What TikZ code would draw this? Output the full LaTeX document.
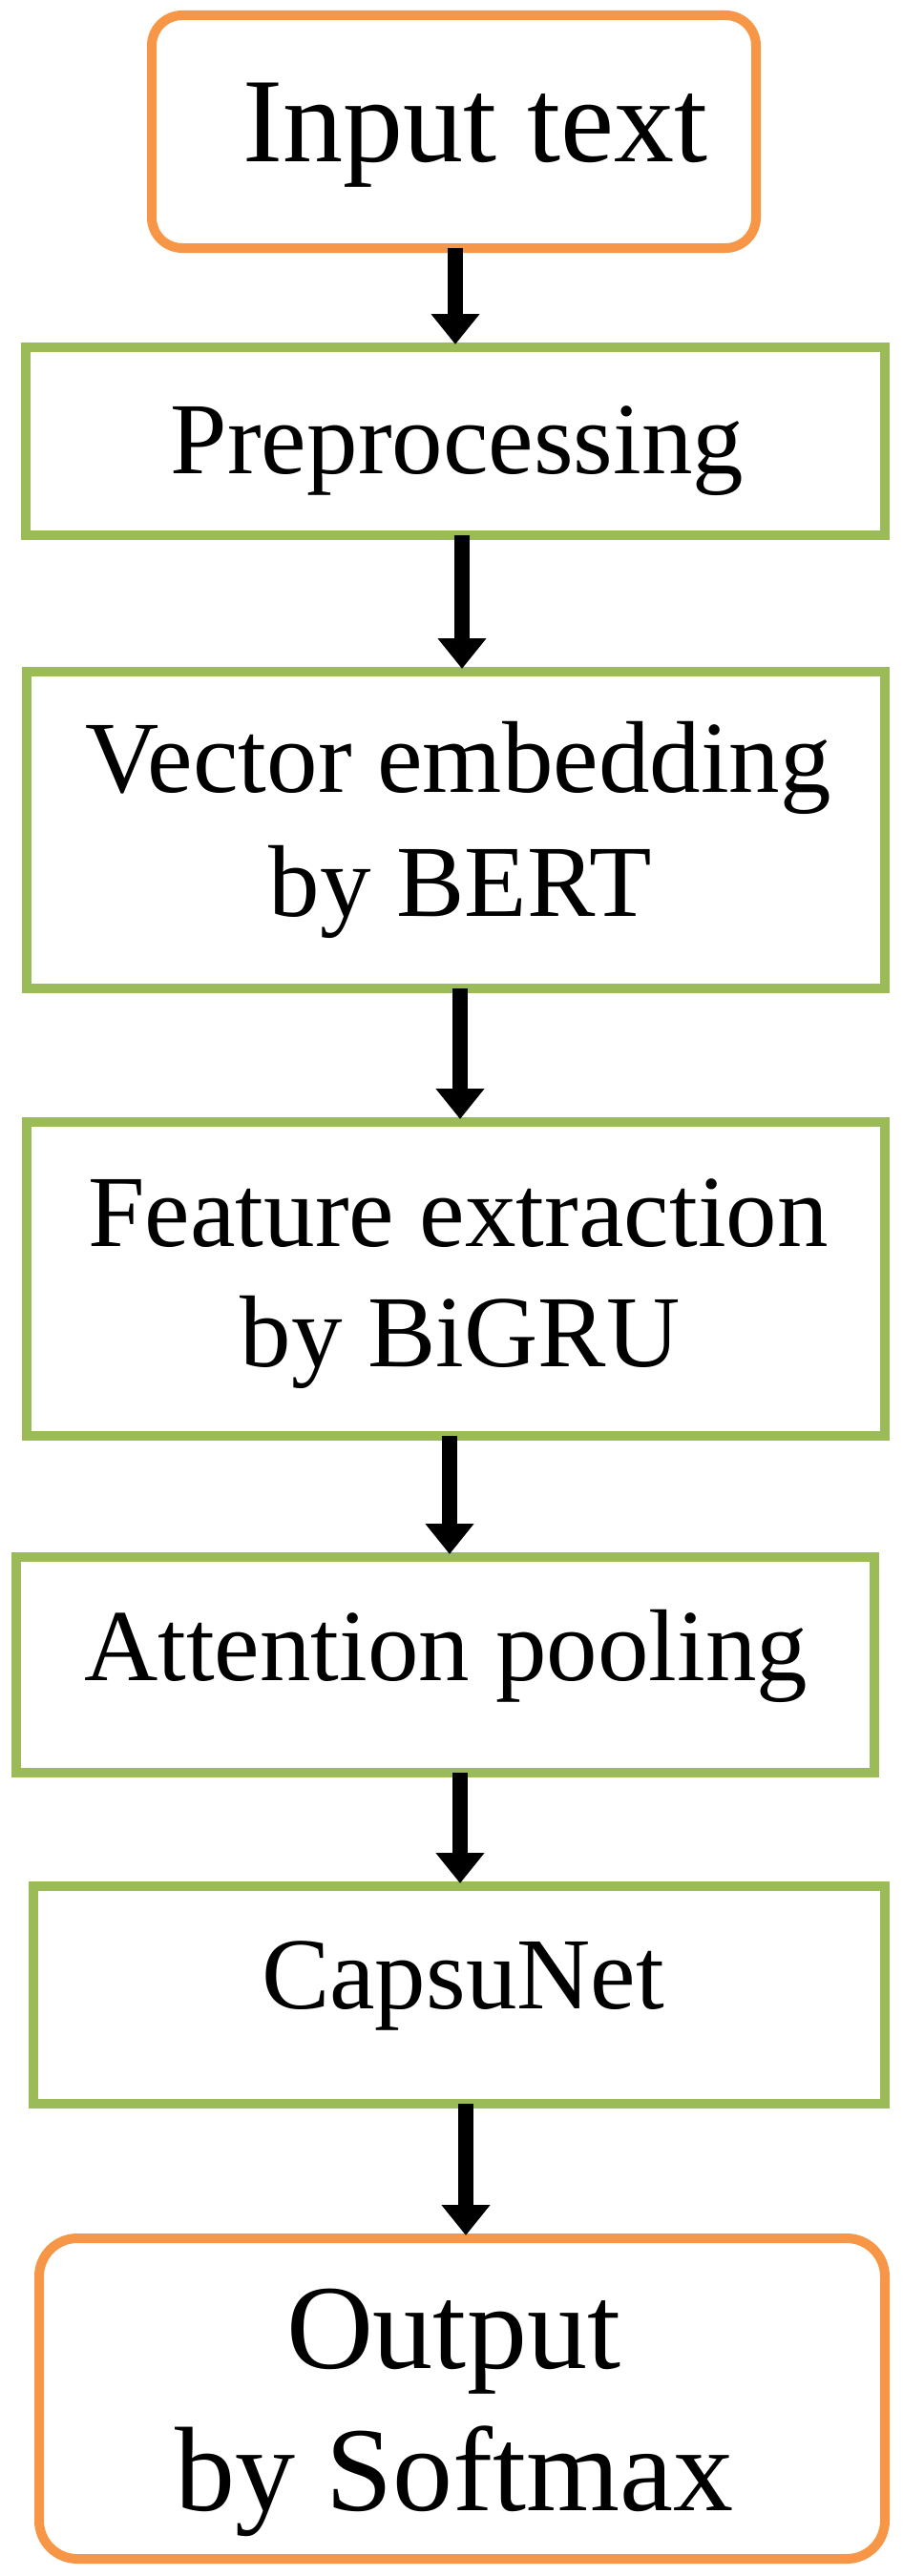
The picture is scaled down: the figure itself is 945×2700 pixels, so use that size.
\documentclass[tikz,border=0pt]{standalone}
\usepackage{fontspec}
\setmainfont{Liberation Serif}
\usetikzlibrary{arrows.meta}
\definecolor{boxorange}{HTML}{F79646}
\definecolor{boxgreen}{HTML}{9BBB59}
\tikzset{
  orangebox/.style={draw=boxorange, line width=10pt, rounded corners=32pt, inner sep=0pt, outer sep=0pt},
  greenbox/.style={draw=boxgreen, line width=10pt, inner sep=0pt, outer sep=0pt},
  greentext/.style={anchor=base, inner sep=0pt, font=\fontsize{107pt}{128pt}\selectfont},
  orangetext/.style={anchor=base, inner sep=0pt, font=\fontsize{126pt}{149pt}\selectfont},
  arr/.style={draw=black, line width=16pt, -{Triangle[width=49pt,length=32pt]}, shorten >=3pt}
}
\begin{document}
\begin{tikzpicture}[x=1pt,y=-1pt]
\useasboundingbox (0,0) rectangle (945,2700);
% boxes
\node[orangebox, minimum width=633pt, minimum height=244pt] (inp) at (475.5,138) {};
\node[greenbox, minimum width=900pt, minimum height=197pt] (pre) at (477,462.5) {};
\node[greenbox, minimum width=899pt, minimum height=332pt] (vec) at (477.5,870) {};
\node[greenbox, minimum width=899pt, minimum height=329pt] (fea) at (477.5,1340.5) {};
\node[greenbox, minimum width=899pt, minimum height=226pt] (att) at (466.5,1745) {};
\node[greenbox, minimum width=892pt, minimum height=228pt] (cap) at (481,2091) {};
\node[orangebox, rounded corners=40pt, minimum width=886pt, minimum height=336pt] (out) at (484,2514) {};
% texts
\node[orangetext] (inpt) at (498,170) {Input text};
\node[greentext] (pret) at (479,496) {Preprocessing};
\node[greentext] (vect1) at (480,830) {Vector embedding};
\node[greentext] (vect2) at (482,960) {by BERT};
\node[greentext] (feat1) at (480,1306) {Feature extraction};
\node[greentext] (feat2) at (482,1432) {by BiGRU};
\node[greentext] (attt) at (467,1761) {Attention pooling};
\node[greentext] (capt) at (485,2105) {CapsuNet};
\node[orangetext] (outt1) at (475,2482) {Output};
\node[orangetext] (outt2) at (476,2631) {by Softmax};
% arrows
\draw[arr] ([xshift=1.5pt]inp.south) -- ([xshift=0pt]pre.north);
\draw[arr] ([xshift=7pt]pre.south) -- ([xshift=6.5pt]vec.north);
\draw[arr] ([xshift=4.5pt]vec.south) -- ([xshift=4.5pt]fea.north);
\draw[arr] ([xshift=-6.5pt]fea.south) -- ([xshift=4.5pt]att.north);
\draw[arr] ([xshift=15.5pt]att.south) -- ([xshift=1pt]cap.north);
\draw[arr] ([xshift=7pt]cap.south) -- ([xshift=4pt]out.north);
\end{tikzpicture}
\end{document}
